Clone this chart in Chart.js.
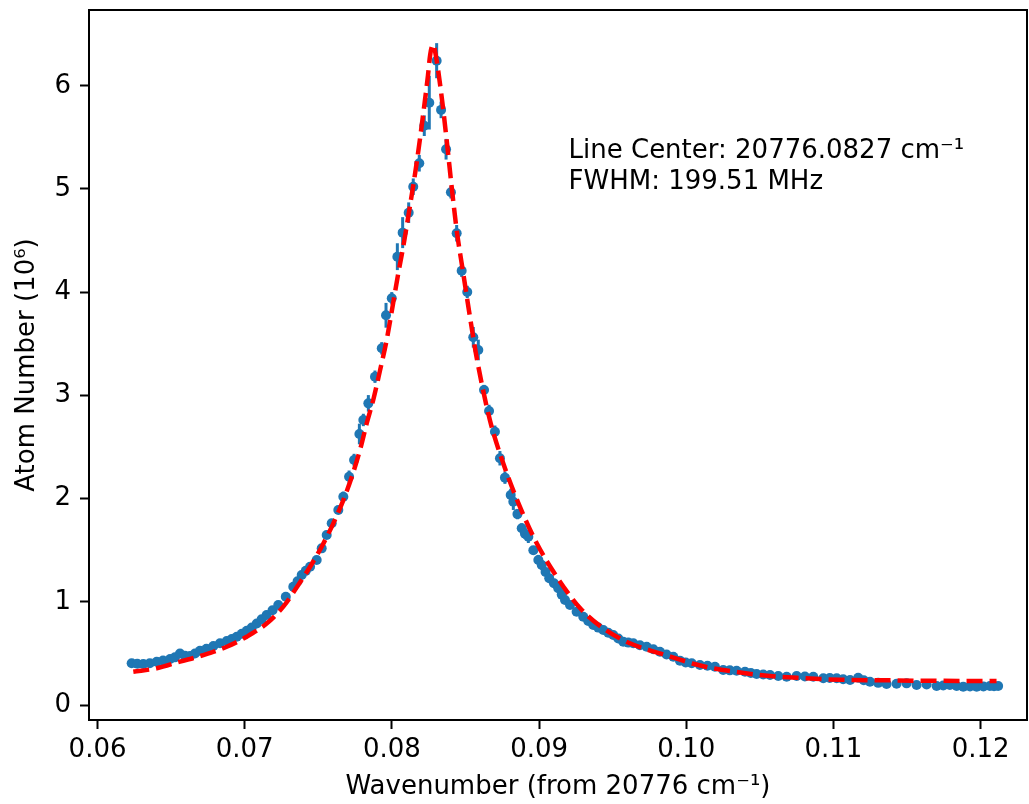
<!DOCTYPE html>
<html lang="en">
<head>
    <meta charset="UTF-8">
    <title>Atom Number vs Wavenumber</title>
    <script src="https://cdn.jsdelivr.net/npm/chart.js"></script>
    <style>
        body {
            margin: 0;
            background: #fff;
        }
        .chart-box {
            width: 1029px;
            height: 804px;
        }
    </style>
</head>
<body>
    <div class="chart-box">
        <canvas id="lineChart" width="1029" height="804"></canvas>
    </div>
    <script>
        // measured points (wavenumber offset, atom number in 1e6, error)
        const wavenumber = [
            0.06232, 0.06270, 0.06311, 0.06355, 0.06402, 0.06445, 0.06493, 0.06526, 0.06560, 0.06594,
            0.06628, 0.06662, 0.06696, 0.06740, 0.06787, 0.06832, 0.06878, 0.06912, 0.06946, 0.06980,
            0.07014, 0.07048, 0.07082, 0.07115, 0.07149, 0.07189, 0.07228, 0.07279, 0.07330, 0.07359,
            0.07387, 0.07415, 0.07444, 0.07489, 0.07523, 0.07557, 0.07591, 0.07636, 0.07670, 0.07709,
            0.07743, 0.07779, 0.07806, 0.07840, 0.07885, 0.07931, 0.07960, 0.07999, 0.08037, 0.08073,
            0.08114, 0.08145, 0.08186, 0.08220, 0.08254, 0.08304, 0.08334, 0.08368, 0.08401, 0.08440,
            0.08474, 0.08512, 0.08553, 0.08587, 0.08626, 0.08660, 0.08700, 0.08734, 0.08768, 0.08807,
            0.08825, 0.08853, 0.08882, 0.08904, 0.08927, 0.08961, 0.08995, 0.09018, 0.09044, 0.09069,
            0.09101, 0.09130, 0.09154, 0.09176, 0.09210, 0.09255, 0.09300, 0.09334, 0.09368, 0.09402,
            0.09436, 0.09470, 0.09504, 0.09538, 0.09572, 0.09606, 0.09640, 0.09685, 0.09731, 0.09776,
            0.09821, 0.09866, 0.09912, 0.09957, 0.09996, 0.10037, 0.10093, 0.10144, 0.10195, 0.10251,
            0.10296, 0.10342, 0.10399, 0.10439, 0.10478, 0.10523, 0.10569, 0.10625, 0.10682, 0.10750,
            0.10806, 0.10863, 0.10931, 0.10975, 0.11022, 0.11066, 0.11113, 0.11168, 0.11206, 0.11248,
            0.11304, 0.11361, 0.11429, 0.11497, 0.11565, 0.11633, 0.11701, 0.11746, 0.11791, 0.11837,
            0.11882, 0.11928, 0.11973, 0.12019, 0.12063, 0.12091, 0.12119
        ];
        const atomNumber = [
            0.404, 0.400, 0.397, 0.405, 0.420, 0.432, 0.446, 0.462, 0.500, 0.478,
            0.475, 0.500, 0.526, 0.545, 0.572, 0.598, 0.620, 0.640, 0.662, 0.690,
            0.720, 0.752, 0.790, 0.830, 0.872, 0.918, 0.969, 1.050, 1.146, 1.200,
            1.260, 1.300, 1.340, 1.405, 1.518, 1.647, 1.761, 1.890, 2.018, 2.212,
            2.374, 2.626, 2.762, 2.923, 3.181, 3.456, 3.776, 3.941, 4.344, 4.577,
            4.770, 5.022, 5.249, 5.613, 5.836, 6.243, 5.766, 5.385, 4.968, 4.571,
            4.208, 4.002, 3.563, 3.440, 3.052, 2.849, 2.648, 2.391, 2.203, 2.035,
            1.970, 1.850, 1.712, 1.660, 1.630, 1.500, 1.405, 1.357, 1.290, 1.228,
            1.180, 1.131, 1.070, 1.017, 0.969, 0.904, 0.856, 0.815, 0.775, 0.750,
            0.727, 0.700, 0.678, 0.645, 0.613, 0.605, 0.598, 0.580, 0.565, 0.540,
            0.516, 0.490, 0.468, 0.430, 0.412, 0.404, 0.388, 0.380, 0.371, 0.339,
            0.336, 0.332, 0.323, 0.310, 0.300, 0.296, 0.291, 0.282, 0.274, 0.281,
            0.276, 0.274, 0.259, 0.262, 0.259, 0.250, 0.242, 0.265, 0.240, 0.226,
            0.215, 0.203, 0.207, 0.210, 0.194, 0.200, 0.184, 0.190, 0.194, 0.185,
            0.177, 0.180, 0.177, 0.180, 0.184, 0.182, 0.184
        ];
        const atomError = [
            0.01, 0.01, 0.01, 0.01, 0.01, 0.01, 0.01, 0.01, 0.015, 0.01,
            0.01, 0.01, 0.01, 0.01, 0.015, 0.015, 0.015, 0.015, 0.015, 0.015,
            0.015, 0.02, 0.02, 0.02, 0.02, 0.02, 0.02, 0.02, 0.025, 0.025,
            0.03, 0.03, 0.03, 0.03, 0.03, 0.04, 0.04, 0.04, 0.05, 0.06,
            0.06, 0.10, 0.06, 0.08, 0.06, 0.06, 0.12, 0.06, 0.13, 0.15,
            0.10, 0.08, 0.08, 0.10, 0.26, 0.17, 0.08, 0.10, 0.06, 0.08,
            0.06, 0.06, 0.10, 0.10, 0.05, 0.06, 0.06, 0.07, 0.06, 0.06,
            0.08, 0.05, 0.05, 0.05, 0.06, 0.04, 0.05, 0.05, 0.04, 0.04,
            0.04, 0.04, 0.03, 0.03, 0.03, 0.03, 0.03, 0.02, 0.02, 0.02,
            0.02, 0.02, 0.02, 0.02, 0.02, 0.02, 0.02, 0.02, 0.02, 0.02,
            0.02, 0.02, 0.015, 0.015, 0.015, 0.015, 0.015, 0.015, 0.015, 0.015,
            0.015, 0.015, 0.015, 0.015, 0.015, 0.015, 0.015, 0.01, 0.01, 0.01,
            0.01, 0.01, 0.01, 0.01, 0.01, 0.01, 0.01, 0.01, 0.01, 0.01,
            0.01, 0.01, 0.01, 0.01, 0.01, 0.01, 0.01, 0.01, 0.01, 0.01,
            0.01, 0.01, 0.01, 0.01, 0.01, 0.01, 0.01
        ];

        // fitted curve
        const fitWavenumber = [
            0.06243, 0.06402, 0.06560, 0.06719, 0.06878, 0.07014, 0.07149, 0.07262, 0.07364, 0.07444,
            0.07523, 0.07602, 0.07670, 0.07727, 0.07783, 0.07829, 0.07874, 0.07919, 0.07965, 0.08009,
            0.08043, 0.08077, 0.08122, 0.08168, 0.08213, 0.08245, 0.08260, 0.08280, 0.08300, 0.08338,
            0.08372, 0.08406, 0.08440, 0.08485, 0.08530, 0.08578, 0.08666, 0.08757, 0.08870, 0.08984,
            0.09120, 0.09278, 0.09436, 0.09617, 0.09821, 0.09957, 0.10048, 0.10183, 0.10342, 0.10501,
            0.10636, 0.10772, 0.10908, 0.11043, 0.11383, 0.11655, 0.11973, 0.12108
        ];
        const fitAtomNumber = [
            0.323, 0.356, 0.420, 0.484, 0.565, 0.662, 0.790, 0.953, 1.163, 1.340,
            1.534, 1.760, 1.986, 2.210, 2.470, 2.730, 2.960, 3.240, 3.540, 3.900,
            4.180, 4.440, 4.830, 5.250, 5.730, 6.100, 6.300, 6.400, 6.280, 5.894,
            5.475, 5.022, 4.603, 4.180, 3.763, 3.350, 2.760, 2.340, 1.920, 1.567,
            1.243, 0.940, 0.743, 0.598, 0.500, 0.440, 0.400, 0.355, 0.320, 0.291,
            0.274, 0.262, 0.252, 0.245, 0.239, 0.235, 0.233, 0.233
        ];

        const xTicks = [0.06, 0.07, 0.08, 0.09, 0.10, 0.11, 0.12];
        const xTickLabels = ['0.06', '0.07', '0.08', '0.09', '0.10', '0.11', '0.12'];
        const yTicks = [0, 1, 2, 3, 4, 5, 6];
        const yTickLabels = ['0', '1', '2', '3', '4', '5', '6'];

        const fontName = "'DejaVu Sans', sans-serif";
        const blue = '#1f77b4';

        // vertical error bars, drawn under the markers
        const errorBars = {
            id: 'errorBars',
            beforeDatasetsDraw(chart) {
                const ctx = chart.ctx;
                const xs = chart.scales.x;
                const ys = chart.scales.y;
                ctx.save();
                ctx.strokeStyle = blue;
                ctx.lineWidth = 3;
                for (let i = 0; i < wavenumber.length; i++) {
                    const px = xs.getPixelForValue(wavenumber[i]);
                    ctx.beginPath();
                    ctx.moveTo(px, ys.getPixelForValue(atomNumber[i] - atomError[i]));
                    ctx.lineTo(px, ys.getPixelForValue(atomNumber[i] + atomError[i]));
                    ctx.stroke();
                }
                ctx.restore();
            }
        };

        // box around the plot + the fit text
        const frameAndText = {
            id: 'frameAndText',
            afterDraw(chart) {
                const ctx = chart.ctx;
                const a = chart.chartArea;
                ctx.save();
                ctx.strokeStyle = '#000';
                ctx.lineWidth = 2;
                ctx.strokeRect(a.left, a.top, a.right - a.left, a.bottom - a.top);

                const tx = chart.scales.x.getPixelForValue(0.092);
                const ty = chart.scales.y.getPixelForValue(5.0);
                ctx.fillStyle = '#000';
                ctx.font = "26px " + fontName;
                ctx.textAlign = 'left';
                ctx.textBaseline = 'alphabetic';
                ctx.fillText('Line Center: 20776.0827 cm\u207B\u00B9', tx, ty - 31);
                ctx.fillText('FWHM: 199.51 MHz', tx, ty);
                ctx.restore();
            }
        };

        const ctx = document.getElementById('lineChart').getContext('2d');
        new Chart(ctx, {
            type: 'scatter',
            data: {
                datasets: [
                    {
                        label: 'fit',
                        data: fitWavenumber.map((x, i) => ({ x: x, y: fitAtomNumber[i] })),
                        showLine: true,
                        borderColor: '#ff0000',
                        borderWidth: 4.5,
                        borderDash: [16, 7],
                        pointRadius: 0,
                        cubicInterpolationMode: 'monotone',
                        order: 0
                    },
                    {
                        label: 'data',
                        data: wavenumber.map((x, i) => ({ x: x, y: atomNumber[i] })),
                        showLine: false,
                        pointRadius: 5,
                        pointBackgroundColor: blue,
                        pointBorderWidth: 0,
                        order: 1
                    }
                ]
            },
            options: {
                responsive: false,
                animation: false,
                devicePixelRatio: 1,
                layout: {
                    autoPadding: false,
                    padding: { top: 10, right: 2, left: 0, bottom: 0 }
                },
                plugins: {
                    legend: { display: false },
                    tooltip: { enabled: false }
                },
                scales: {
                    x: {
                        type: 'linear',
                        min: 0.05942,
                        max: 0.12315,
                        afterBuildTicks: s => { s.ticks = xTicks.map(v => ({ value: v })); },
                        afterFit: s => { s.height = 84; s.paddingLeft = 0; s.paddingRight = 0; },
                        ticks: {
                            callback: (v, i) => xTickLabels[i],
                            font: { family: fontName, size: 26 },
                            color: '#000',
                            padding: 6,
                            maxRotation: 0,
                            autoSkip: false
                        },
                        grid: {
                            drawOnChartArea: false,
                            drawTicks: true,
                            tickLength: 9,
                            tickColor: '#000',
                            tickWidth: 2
                        },
                        border: { display: false },
                        title: {
                            display: true,
                            text: 'Wavenumber (from 20776 cm\u207B\u00B9)',
                            font: { family: fontName, size: 26 },
                            color: '#000',
                            padding: { top: 0, bottom: 1 }
                        }
                    },
                    y: {
                        min: -0.145,
                        max: 6.734,
                        afterBuildTicks: s => { s.ticks = yTicks.map(v => ({ value: v })); },
                        afterFit: s => { s.width = 89; s.paddingTop = 0; s.paddingBottom = 0; },
                        ticks: {
                            callback: (v, i) => yTickLabels[i],
                            font: { family: fontName, size: 26 },
                            color: '#000',
                            padding: 9
                        },
                        grid: {
                            drawOnChartArea: false,
                            drawTicks: true,
                            tickLength: 9,
                            tickColor: '#000',
                            tickWidth: 2
                        },
                        border: { display: false },
                        title: {
                            display: true,
                            text: 'Atom Number (10\u2076)',
                            font: { family: fontName, size: 26 },
                            color: '#000',
                            padding: { top: 12, bottom: 0 }
                        }
                    }
                }
            },
            plugins: [errorBars, frameAndText]
        });
    </script>
</body>
</html>
